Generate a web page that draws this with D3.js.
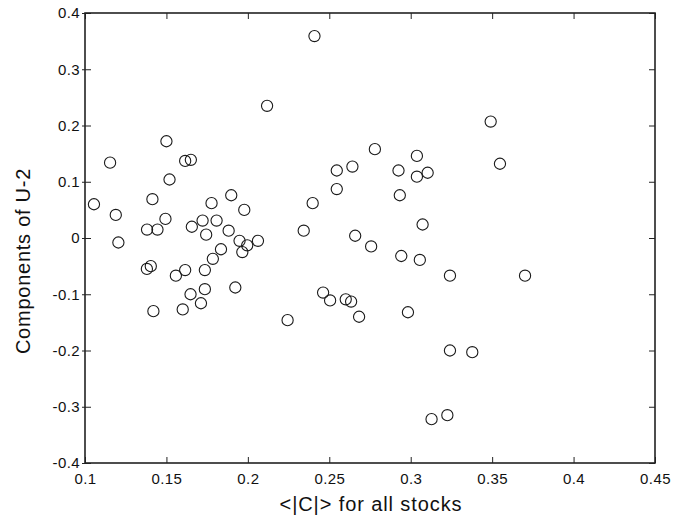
<!DOCTYPE html>
<html>
<head>
<meta charset="utf-8">
<script src="https://cdn.jsdelivr.net/npm/d3@7"></script>
<style>
  body { margin: 0; background: #fff; }
  svg { display: block; font-family: "Liberation Sans", Arial, sans-serif; }
</style>
</head>
<body>
<svg id="chart" width="690" height="523"></svg>
<script>
// mean |C| per stock (x) and its component on eigenvector U-2 (y)
const meanC = [
  0.2118, 0.150, 0.1154, 0.1615, 0.165, 0.1519, 0.1055, 0.1414, 0.1189, 0.1898,
  0.1777, 0.1978, 0.1494, 0.1722, 0.1808, 0.1381, 0.1445, 0.1656, 0.1744, 0.1882,
  0.1205, 0.1949, 0.1996, 0.2062, 0.1966, 0.1835, 0.1785, 0.138, 0.1404, 0.1558,
  0.1615, 0.1736, 0.1736, 0.1648, 0.1923, 0.1712, 0.142, 0.160, 0.2244, 0.2409,
  0.3491, 0.3548, 0.278, 0.3038, 0.2642, 0.2546, 0.2925, 0.3038, 0.3104, 0.2546,
  0.2933, 0.2398, 0.3073, 0.2343, 0.2659, 0.2757, 0.2942, 0.3056, 0.3241, 0.3702,
  0.2462, 0.2505, 0.2601, 0.2634, 0.2683, 0.2983, 0.3241, 0.3378, 0.3128, 0.3225
];
const compU2 = [
  0.235, 0.172, 0.134, 0.137, 0.139, 0.104, 0.060, 0.069, 0.041, 0.076,
  0.062, 0.050, 0.034, 0.031, 0.031, 0.015, 0.015, 0.020, 0.006, 0.013,
  -0.008, -0.005, -0.013, -0.005, -0.025, -0.020, -0.037, -0.055, -0.050, -0.067,
  -0.057, -0.057, -0.091, -0.100, -0.088, -0.116, -0.130, -0.127, -0.146, 0.359,
  0.207, 0.132, 0.158, 0.146, 0.127, 0.120, 0.120, 0.109, 0.116, 0.087,
  0.076, 0.062, 0.024, 0.013, 0.004, -0.015, -0.032, -0.039, -0.067, -0.067,
  -0.097, -0.111, -0.109, -0.113, -0.140, -0.132, -0.200, -0.203, -0.322, -0.315
];
const xTicks = [0.1, 0.15, 0.2, 0.25, 0.3, 0.35, 0.4, 0.45];
const yTicks = [-0.4, -0.3, -0.2, -0.1, 0, 0.1, 0.2, 0.3, 0.4];

const svg = d3.select("#chart");
const margin = { top: 13, right: 35, bottom: 60, left: 85 };
const width = 690 - margin.left - margin.right;
const height = 523 - margin.top - margin.bottom;
const axisColor = "#222";

const g = svg.append("g")
  .attr("transform", `translate(${margin.left},${margin.top})`);

const x = d3.scaleLinear().domain([0.1, 0.45]).range([0, width]);
const y = d3.scaleLinear().domain([-0.4, 0.4]).range([height, 0]);

// bottom axis: labels below, ticks inward
const xAxis = g.append("g")
  .attr("transform", `translate(0,${height})`)
  .call(d3.axisBottom(x).tickValues(xTicks).tickSize(0).tickPadding(10)
    .tickFormat(d => String(+d.toFixed(2))));
xAxis.selectAll(".tick").append("line")
  .attr("y2", -6).attr("stroke", axisColor);

// left axis: labels left, short outward tick and inward tick
const yAxis = g.append("g")
  .call(d3.axisLeft(y).tickValues(yTicks).tickSize(3).tickPadding(2)
    .tickFormat(d => String(+d.toFixed(1))));
yAxis.selectAll(".tick").append("line")
  .attr("x2", 6).attr("stroke", axisColor);

// top and right: ticks only
g.append("g")
  .call(d3.axisTop(x).tickValues(xTicks).tickSizeInner(-6).tickSizeOuter(0).tickFormat(""));
g.append("g")
  .attr("transform", `translate(${width},0)`)
  .call(d3.axisRight(y).tickValues(yTicks).tickSizeInner(-6).tickSizeOuter(0).tickFormat(""));

g.selectAll(".domain").remove();
g.selectAll(".tick line").attr("stroke", axisColor).attr("stroke-width", 1);
g.selectAll(".tick text")
  .attr("fill", "#111")
  .style("font-size", "15px")
  .style("letter-spacing", "0.4px")
  .style("font-family", "'Liberation Sans', Arial, sans-serif");

g.append("rect")
  .attr("width", width).attr("height", height)
  .attr("fill", "none").attr("stroke", axisColor).attr("stroke-width", 1.6);

// points
g.append("g").selectAll("circle")
  .data(meanC.map((v, i) => ({ c: v, u: compU2[i] })))
  .join("circle")
  .attr("cx", d => x(d.c))
  .attr("cy", d => y(d.u))
  .attr("r", 5.6)
  .attr("fill", "none")
  .attr("stroke", "#1a1a1a")
  .attr("stroke-width", 1.1);

// axis titles
svg.append("text")
  .attr("x", 371)
  .attr("y", 511)
  .attr("text-anchor", "middle")
  .attr("fill", "#111")
  .style("font-size", "20px")
  .style("letter-spacing", "0.9px")
  .text("<|C|> for all stocks");

svg.append("text")
  .attr("transform", "translate(30,261) rotate(-90)")
  .attr("text-anchor", "middle")
  .attr("fill", "#111")
  .style("font-size", "20px")
  .style("letter-spacing", "0.75px")
  .text("Components of U-2");
</script>
</body>
</html>
